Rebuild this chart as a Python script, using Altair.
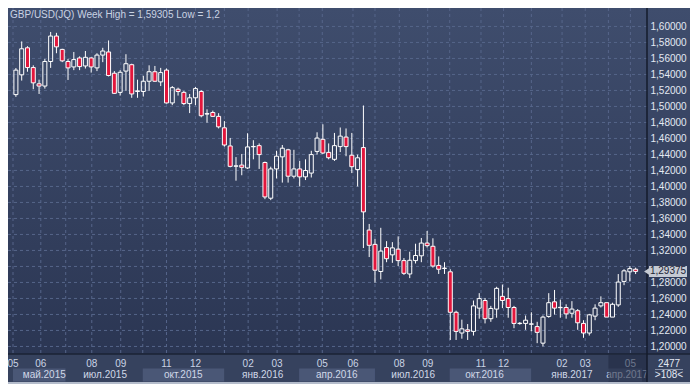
import altair as alt
import pandas as pd

TITLE = "GBP/USD(JQ) Week High = 1,59305 Low = 1,2"

# Weekly candles (index 0 = first visible week, May 2015)
opens = [1.5148, 1.5395, 1.5733, 1.5486, 1.5283, 1.5255, 1.5562, 1.5880, 1.5713, 1.5562,
         1.5494, 1.5606, 1.5506, 1.5606, 1.5482, 1.5642, 1.5681, 1.5415, 1.5176, 1.5442,
         1.5522, 1.5187, 1.5187, 1.5315, 1.5434, 1.5307, 1.5454, 1.5044, 1.5215, 1.5176,
         1.5036, 1.5108, 1.5187, 1.4905, 1.4924, 1.4876, 1.4733, 1.4506, 1.4253, 1.4267,
         1.4231, 1.4496, 1.4510, 1.4299, 1.3853, 1.4219, 1.4370, 1.4458, 1.4128, 1.4219,
         1.4120, 1.4167, 1.4438, 1.4589, 1.4426, 1.4339, 1.4498, 1.4617, 1.4390, 1.4211,
         1.4486, 1.3455, 1.3276, 1.2937, 1.3236, 1.3145, 1.3216, 1.3073, 1.2906, 1.3073,
         1.3133, 1.3292, 1.3252, 1.3013, 1.2975, 1.2933, 1.2427, 1.2168, 1.2208, 1.2188,
         1.2479, 1.2574, 1.2347, 1.2467, 1.2626, 1.2598, 1.2487, 1.2286, 1.2288, 1.2278,
         1.2248, 1.2041, 1.2375, 1.2558, 1.2485, 1.2487, 1.2415, 1.2447, 1.2288, 1.2168,
         1.2379, 1.2507, 1.2547, 1.2367, 1.2519, 1.2813, 1.2933, 1.2965]
highs = [1.5480, 1.5813, 1.5753, 1.5514, 1.5335, 1.5594, 1.5931, 1.5920, 1.5721, 1.5594,
         1.5681, 1.5626, 1.5693, 1.5614, 1.5665, 1.5733, 1.5825, 1.5442, 1.5454, 1.5653,
         1.5534, 1.5335, 1.5383, 1.5514, 1.5506, 1.5482, 1.5474, 1.5255, 1.5235, 1.5195,
         1.5156, 1.5243, 1.5203, 1.4964, 1.4948, 1.4916, 1.4817, 1.4606, 1.4367, 1.4406,
         1.4665, 1.4578, 1.4538, 1.4311, 1.4247, 1.4446, 1.4518, 1.4470, 1.4458, 1.4319,
         1.4339, 1.4446, 1.4677, 1.4777, 1.4538, 1.4669, 1.4737, 1.4725, 1.4669, 1.4398,
         1.5012, 1.3531, 1.3344, 1.3483, 1.3316, 1.3304, 1.3376, 1.3105, 1.3184, 1.3284,
         1.3356, 1.3443, 1.3352, 1.3125, 1.3053, 1.2965, 1.2447, 1.2335, 1.2280, 1.2574,
         1.2666, 1.2606, 1.2507, 1.2746, 1.2774, 1.2734, 1.2507, 1.2304, 1.2387, 1.2427,
         1.2308, 1.2387, 1.2666, 1.2706, 1.2586, 1.2527, 1.2566, 1.2467, 1.2328, 1.2407,
         1.2527, 1.2626, 1.2547, 1.2547, 1.2905, 1.2965, 1.3005, 1.2985]
lows = [1.5120, 1.5323, 1.5434, 1.5215, 1.5156, 1.5223, 1.5482, 1.5665, 1.5554, 1.5331,
        1.5454, 1.5454, 1.5474, 1.5423, 1.5442, 1.5554, 1.5375, 1.5156, 1.5136, 1.5195,
        1.5108, 1.5108, 1.5124, 1.5195, 1.5307, 1.5255, 1.5036, 1.5016, 1.5136, 1.5016,
        1.4917, 1.5016, 1.4864, 1.4797, 1.4868, 1.4725, 1.4498, 1.4239, 1.4072, 1.4140,
        1.4219, 1.4339, 1.4219, 1.3841, 1.3829, 1.4100, 1.4048, 1.4048, 1.4100, 1.4000,
        1.4080, 1.4112, 1.4398, 1.4406, 1.4339, 1.4319, 1.4430, 1.4378, 1.4167, 1.4000,
        1.3230, 1.3117, 1.2798, 1.2838, 1.3053, 1.3045, 1.3005, 1.2894, 1.2854, 1.3037,
        1.3053, 1.3236, 1.2985, 1.2906, 1.2906, 1.2081, 1.2081, 1.2097, 1.2081, 1.2136,
        1.2347, 1.2288, 1.2308, 1.2359, 1.2479, 1.2359, 1.2228, 1.2272, 1.2208, 1.2188,
        1.2041, 1.2001, 1.2359, 1.2399, 1.2359, 1.2347, 1.2359, 1.2208, 1.2108, 1.2136,
        1.2328, 1.2487, 1.2367, 1.2367, 1.2495, 1.2766, 1.2813, 1.2905]
closes = [1.5454, 1.5721, 1.5486, 1.5295, 1.5255, 1.5562, 1.5880, 1.5745, 1.5570, 1.5482,
          1.5586, 1.5498, 1.5614, 1.5494, 1.5642, 1.5693, 1.5387, 1.5164, 1.5427, 1.5534,
          1.5156, 1.5195, 1.5315, 1.5434, 1.5315, 1.5423, 1.5044, 1.5235, 1.5187, 1.5036,
          1.5108, 1.5223, 1.4884, 1.4910, 1.4876, 1.4745, 1.4518, 1.4251, 1.4257, 1.4239,
          1.4494, 1.4500, 1.4398, 1.3869, 1.4219, 1.4378, 1.4478, 1.4128, 1.4219, 1.4120,
          1.4199, 1.4398, 1.4605, 1.4418, 1.4359, 1.4510, 1.4629, 1.4498, 1.4247, 1.4358,
          1.3682, 1.3264, 1.2953, 1.3192, 1.3097, 1.3232, 1.3073, 1.2914, 1.3077, 1.3137,
          1.3292, 1.3260, 1.3005, 1.2965, 1.2979, 1.2427, 1.2188, 1.2220, 1.2188, 1.2507,
          1.2598, 1.2347, 1.2475, 1.2726, 1.2574, 1.2487, 1.2288, 1.2290, 1.2328, 1.2282,
          1.2176, 1.2367, 1.2547, 1.2479, 1.2489, 1.2407, 1.2467, 1.2296, 1.2168, 1.2395,
          1.2479, 1.2547, 1.2367, 1.2527, 1.2805, 1.2945, 1.2973, 1.2938]

price_ticks = [1.20, 1.22, 1.24, 1.26, 1.28, 1.30, 1.32, 1.34, 1.36, 1.38, 1.40,
               1.42, 1.44, 1.46, 1.48, 1.50, 1.52, 1.54, 1.56, 1.58, 1.60]

# month starts (in week-index units) and their number labels ('' = quarter month)
month_pos = [-0.5, 4.3, 8.6, 13.1, 18.1, 21.9, 26.0, 31.0, 36.0, 40.1, 45.1, 48.9,
             52.9, 58.2, 62.0, 66.2, 71.1, 74.9, 80.3, 84.2, 89.0, 94.3, 98.3, 102.3, 106.1]
month_num = ["05", "06", "", "08", "09", "", "11", "12", "", "02", "03", "",
             "05", "06", "", "08", "09", "", "11", "12", "", "02", "03", "", "05"]

q_start = [-0.5, 8.6, 21.9, 36.0, 48.9, 62.0, 74.9, 89.0, 102.3]
q_end = [8.6, 21.9, 36.0, 48.9, 62.0, 74.9, 89.0, 102.3, 108.1]
q_center = [4.9, 15.4, 28.9, 42.6, 55.4, 68.6, 80.9, 96.0, 105.5]
q_label = ["май.2015", "июл.2015", "окт.2015", "янв.2016", "апр.2016",
           "июл.2016", "окт.2016", "янв.2017", "апр.2017"]
q_shade = ["light", "dark", "light", "dark", "light", "dark", "light", "dark", "light"]

tag_value = 1.29375
tag_text = "1,29375"
corner_top = "2477"
corner_bottom = ">108<"

# ---------------- layout ----------------
W, H = 639, 346          # plot area
RS, BS = 43, 30          # right axis strip, bottom strip
CW, CH = W + RS, H + BS
FONT = "Liberation Sans"

df = pd.DataFrame({"i": list(range(len(opens))), "open": opens, "high": highs,
                   "low": lows, "close": closes})
df["top"] = df[["open", "close"]].max(axis=1)
df["bot"] = df[["open", "close"]].min(axis=1)
df["dir"] = ["down" if c < o else "up" for o, c in zip(opens, closes)]

months = pd.DataFrame({"pos": month_pos, "num": month_num})
month_labels = months[months["num"] != ""]
quarters = pd.DataFrame({"s": q_start, "e": q_end, "c": q_center,
                         "label": q_label, "shade": q_shade})
grid = pd.DataFrame({"v": price_ticks})
one = pd.DataFrame({"k": [0]})
tag = pd.DataFrame({"v": [tag_value], "t": [tag_text]})

xs = alt.Scale(domain=[-0.5, 108.1], nice=False, zero=False)
ys = alt.Scale(domain=[1.19056, 1.62306], nice=False, zero=False)
yax = alt.Axis(orient="right", values=price_ticks,
               labelExpr="abs(datum.value - 1.3) < 0.0001 ? '' : replace(format(datum.value, '.5f'), '.', ',')",
               ticks=False, tickSize=0, domain=False, grid=False, labelFont=FONT,
               labelFontSize=10, labelColor="#e3e9f3", labelPadding=3, labelOverlap=False,
               labelAlign="left", labelBaseline="middle", title=None, zindex=1)


def X(f):
    return alt.X(f, type="quantitative", scale=xs, axis=None)


def Y(f):
    return alt.Y(f, type="quantitative", scale=ys, axis=yax, title=None)


grad = alt.LinearGradient(gradient="linear",
                          stops=[alt.GradientStop(color="#3f4d6d", offset=0),
                                 alt.GradientStop(color="#2b3653", offset=1)],
                          x1=0, x2=0, y1=0, y2=1)

bg = alt.Chart(one).mark_rect(color=grad).encode(
    x=alt.value(0), x2=alt.value(CW), y=alt.value(0), y2=alt.value(H))

vgrid = alt.Chart(months).mark_rule(color="#56658a", strokeDash=[3, 3], strokeWidth=1).encode(
    x=X("pos"), y=alt.value(0), y2=alt.value(H))

hgrid = alt.Chart(grid).mark_rule(color="#56658a", strokeDash=[3, 3], strokeWidth=1).encode(
    y=Y("v"), x=alt.value(0), x2=alt.value(W))

wick_up = alt.Chart(df).mark_rule(color="white", strokeWidth=1).encode(
    x=X("i"), y=Y("high"), y2="top")
wick_dn = alt.Chart(df).mark_rule(color="white", strokeWidth=1).encode(
    x=X("i"), y=Y("bot"), y2="low")
bodies = alt.Chart(df).mark_bar(width=4, stroke="white", strokeWidth=1).encode(
    x=X("i"), y=Y("top"), y2="bot",
    fill=alt.Fill("dir:N", scale=alt.Scale(domain=["up", "down"],
                                           range=["transparent", "#e2163c"]), legend=None))

strip = alt.Chart(one).mark_rect(color="#36425e").encode(
    x=alt.value(0), x2=alt.value(CW), y=alt.value(H), y2=alt.value(CH))
qboxes = alt.Chart(quarters).mark_rect().encode(
    x=X("s"), x2="e", y=alt.value(H + 14.5), y2=alt.value(H + 27.5),
    color=alt.Color("shade:N", scale=alt.Scale(domain=["light", "dark"],
                                                range=["#4a5776", "#36425e"]), legend=None))
mtext = alt.Chart(month_labels).mark_text(font=FONT, fontSize=10, color="#c9d3e5",
                                          align="center", baseline="middle").encode(
    x=X("pos"), y=alt.value(H + 10), text="num:N")
qtext = alt.Chart(quarters).mark_text(font=FONT, fontSize=10, color="#d0d8e8",
                                      align="center", baseline="middle").encode(
    x=X("c"), y=alt.value(H + 21), text="label:N")
dim = alt.Chart(quarters.tail(1)).mark_rect(color="#1f2840", opacity=0.55).encode(
    x=X("s"), x2=alt.value(W), y=alt.value(H + 1), y2=alt.value(CH - 2))

corner = alt.Chart(one).mark_rect(color="#36425e").encode(
    x=alt.value(W), x2=alt.value(CW), y=alt.value(H), y2=alt.value(CH))
corner_t1 = alt.Chart(pd.DataFrame({"t": [corner_top]})).mark_text(
    font=FONT, fontSize=10, color="#e3e9f3", align="center", baseline="middle").encode(
    x=alt.value(W + 22), y=alt.value(H + 10), text="t:N")
corner_t2 = alt.Chart(pd.DataFrame({"t": [corner_bottom]})).mark_text(
    font=FONT, fontSize=10, color="#e3e9f3", align="center", baseline="middle").encode(
    x=alt.value(W + 22), y=alt.value(H + 21), text="t:N")
corner_line = alt.Chart(one).mark_rule(color="#8a94aa", strokeWidth=1).encode(
    x=alt.value(W + 8), x2=alt.value(W + 36), y=alt.value(H + 15.5))

strip_top = alt.Chart(one).mark_rule(color="#1b2335", strokeWidth=1.5).encode(
    x=alt.value(0), x2=alt.value(CW), y=alt.value(H))
separator = alt.Chart(one).mark_rule(color="#141b2b", strokeWidth=1.5).encode(
    x=alt.value(W), y=alt.value(0), y2=alt.value(CH))
bottom_line = alt.Chart(one).mark_rect(color="#b4bccb").encode(
    x=alt.value(0), x2=alt.value(CW), y=alt.value(CH - 2), y2=alt.value(CH))

tag_shape = "M-1.26,0 L-1,-0.17 L-1,-0.29 L1,-0.29 L1,0.29 L-1,0.29 L-1,0.17 Z"
tag_box = alt.Chart(tag).mark_point(shape=tag_shape, size=1444, filled=True,
                                    color="#c5cad3", opacity=1).encode(
    x=alt.value(W + 21), y=Y("v"))
tag_lbl = alt.Chart(tag).mark_text(font=FONT, fontSize=10, color="#1c2436",
                                   align="center", baseline="middle").encode(
    x=alt.value(W + 21), y=Y("v"), text="t:N")

title = alt.Chart(pd.DataFrame({"t": [TITLE]})).mark_text(
    font=FONT, fontSize=10, color="#c9d2e3", align="left", baseline="alphabetic").encode(
    x=alt.value(2), y=alt.value(10), text="t:N")

chart = alt.layer(
    bg, vgrid, hgrid, wick_up, wick_dn, bodies,
    strip, qboxes, mtext, qtext, dim,
    corner, corner_t1, corner_t2, corner_line,
    strip_top, separator, bottom_line, tag_box, tag_lbl, title
).properties(
    width=W, height=H,
    padding={"left": 0, "top": 0, "right": RS, "bottom": BS},
    autosize="none", background="#34405d"
).configure_view(stroke=None)

chart.save("out.html", embed_options={"renderer": "svg", "actions": False})
